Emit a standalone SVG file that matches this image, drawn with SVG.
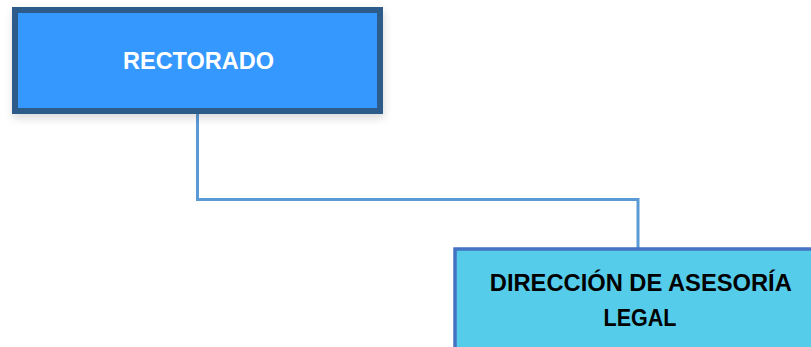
<svg xmlns="http://www.w3.org/2000/svg" width="811" height="347" viewBox="0 0 811 347">
  <defs>
    <filter id="shadow" x="-10%" y="-20%" width="120%" height="150%">
      <feDropShadow dx="1" dy="4" stdDeviation="4" flood-color="#000000" flood-opacity="0.15"/>
    </filter>
    <style>
      .conn { fill: none; stroke: #5B9BD5; stroke-width: 3; stroke-linejoin: miter; }
      .lbl { font-family: "Liberation Sans", Arial, sans-serif; font-weight: bold; text-anchor: middle; }
    </style>
  </defs>
  <rect width="811" height="347" fill="#FFFFFF"/>
  <g id="connectors">
    <polyline class="conn" points="197.5,113 197.5,199.5 638,199.5 638,248"/>
  </g>
  <g id="rectorado">
    <rect x="15" y="10" width="365" height="101" fill="#3698FF" stroke="#2F5C8A" stroke-width="6" filter="url(#shadow)"/>
    <text class="lbl" x="198.5" y="69.3" font-size="23.5" fill="#FFFFFF" textLength="151" lengthAdjust="spacingAndGlyphs">RECTORADO</text>
  </g>
  <g id="direccion">
    <rect x="455" y="249" width="372" height="120" fill="#55CCEA" stroke="#4472C4" stroke-width="3.5"/>
    <text class="lbl" x="640.8" y="290.7" font-size="24" fill="#000000" textLength="302" lengthAdjust="spacingAndGlyphs">DIRECCIÓN DE ASESORÍA</text>
    <text class="lbl" x="640" y="325.7" font-size="24" fill="#000000" textLength="73" lengthAdjust="spacingAndGlyphs">LEGAL</text>
  </g>
</svg>
